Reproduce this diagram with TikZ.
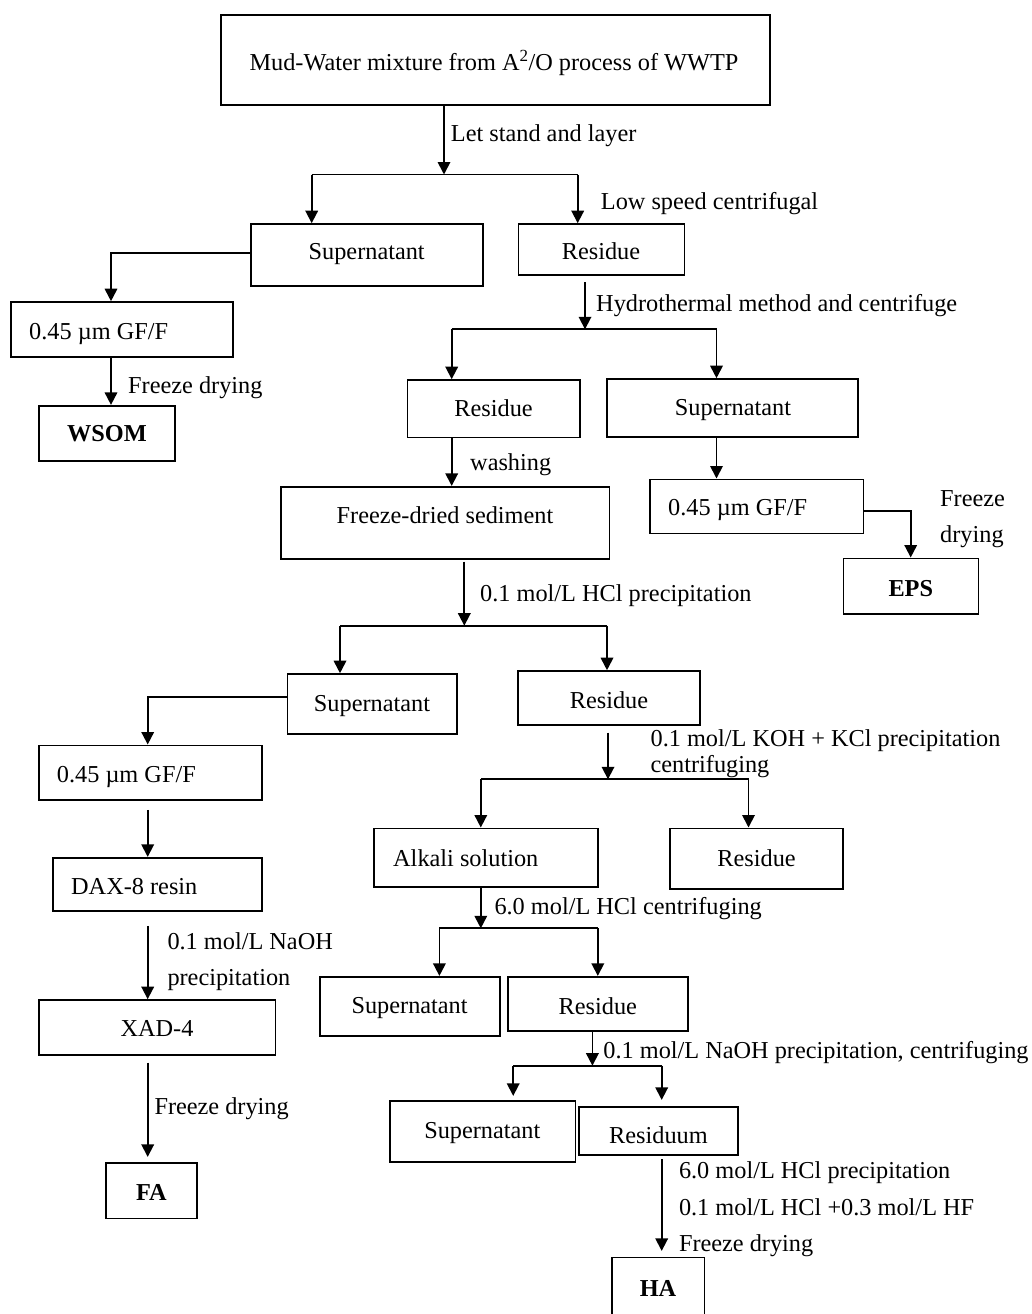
\documentclass[tikz,border=0pt]{standalone}
\usepackage{fontspec}
\setmainfont{Liberation Serif}
\usetikzlibrary{arrows.meta,fit,calc}
\newcommand{\mybox}[5]{\node[box, fit={(#2,#3) (#4,#5)}] (#1) {};}
\begin{document}
\begin{tikzpicture}[x=1pt,y=-1pt,
  box/.style={draw, line width=1.6pt, inner sep=0pt},
  txt/.style={inner sep=0pt, text height=16pt, text depth=0pt, font=\fontsize{24.3}{29}\selectfont},
  ln/.style={line width=1.8pt},
  arr/.style={ln, -{Triangle[width=12.5pt,length=12.5pt]}}
]
\useasboundingbox (0,0) rectangle (1032,1314);
\clip (0,0) rectangle (1032,1314);
\fill[white] (0,0) rectangle (1032,1314);
% boxes
\mybox{top}{220.7}{15}{770}{105}
\mybox{sup1}{250.7}{224}{482.7}{286}
\mybox{res1}{518.3}{224}{684.3}{275}
\mybox{gff1}{11}{302}{233}{357}
\mybox{wsom}{39}{405.7}{174.7}{460.7}
\mybox{res2}{407.3}{380}{579.8}{437.3}
\mybox{sup2}{607}{379}{858}{436.7}
\mybox{gff2}{650.2}{479.3}{863.3}{533.3}
\mybox{eps}{843.3}{558.3}{978.3}{614}
\mybox{fds}{280.7}{486.7}{609.4}{558.7}
\mybox{sup3}{287.3}{674}{456.7}{734}
\mybox{res3}{518.1}{671}{700}{725}
\mybox{gff3}{39}{745.3}{261.7}{800}
\mybox{dax}{52.7}{857.7}{261.7}{911}
\mybox{xad}{39}{1000}{275.3}{1055}
\mybox{fa}{105.7}{1162.7}{197}{1218.3}
\mybox{alk}{374.1}{828.3}{597.8}{886.7}
\mybox{res4}{669.8}{828.3}{843}{889}
\mybox{sup4}{320}{976.7}{499.7}{1035.7}
\mybox{res5}{507.8}{976.7}{687.8}{1031}
\mybox{sup5}{389.9}{1100.7}{575.3}{1161.7}
\mybox{resm}{578.9}{1106.7}{738.2}{1154.7}
\mybox{ha}{611.7}{1257.3}{704.3}{1330}
% connectors
\coordinate (j1) at (444,174.5);
\coordinate (j1l) at (311.7,174.5);
\coordinate (j1r) at (577.7,174.5);
\draw[arr] (top.south -| j1) -- (j1);
\draw[ln] (j1l) -- (j1r);
\draw[arr] (j1l) -- (j1l |- sup1.north);
\draw[arr] (j1r) -- (j1r |- res1.north);
\coordinate (x111) at (111,253.3);
\draw[arr] (sup1.west |- x111) -| (gff1.north -| x111);
\draw[arr] (gff1.south -| x111) -- (wsom.north -| x111);
\coordinate (j2) at (585,329.3);
\coordinate (j2l) at (451.7,329.3);
\coordinate (j2r) at (716.5,329.3);
\draw[arr, shorten <=6.5pt] (res1.south -| j2) -- (j2);
\draw[ln] (j2l) -- (j2r);
\draw[arr] (j2l) -- (j2l |- res2.north);
\draw[arr] (j2r) -- (j2r |- sup2.north);
\draw[arr] (sup2.south -| j2r) -- (gff2.north -| j2r);
\coordinate (k1) at (910.7,510.7);
\draw[arr] (gff2.east |- k1) -| (eps.north -| k1);
\draw[arr] (res2.south -| j2l) -- (fds.north -| j2l);
\coordinate (j3) at (464.3,625.7);
\coordinate (j3l) at (340,625.7);
\coordinate (j3r) at (607,625.7);
\draw[arr, shorten <=2pt] (fds.south -| j3) -- (j3);
\draw[ln] (j3l) -- (j3r);
\draw[arr] (j3l) -- (j3l |- sup3.north);
\draw[arr] (j3r) -- (j3r |- res3.north);
\coordinate (k2) at (147.7,696.7);
\draw[arr] (sup3.west |- k2) -| (gff3.north -| k2);
\draw[arr, shorten <=9pt] (gff3.south -| k2) -- (dax.north -| k2);
\draw[arr, shorten <=14pt] (dax.south -| k2) -- (xad.north -| k2);
\draw[arr, shorten <=6.7pt, shorten >=5pt] (xad.south -| k2) -- (fa.north -| k2);
\coordinate (j4) at (608,779.3);
\coordinate (j4l) at (480.8,779.3);
\coordinate (j4r) at (748.5,779.3);
\draw[arr, shorten <=6.7pt] (res3.south -| j4) -- (j4);
\draw[ln] (j4l) -- (j4r);
\draw[arr] (j4l) -- (j4l |- alk.north);
\draw[arr] (j4r) -- (j4r |- res4.north);
\coordinate (j5) at (480.8,928.3);
\coordinate (j5l) at (439.4,928.3);
\coordinate (j5r) at (597.8,928.3);
\draw[arr] (alk.south -| j5) -- (j5);
\draw[ln] (j5l) -- (j5r);
\draw[arr] (j5l) -- (j5l |- sup4.north);
\draw[arr] (j5r) -- (j5r |- res5.north);
\coordinate (j6) at (592.4,1065.7);
\coordinate (j6l) at (513.2,1065.7);
\coordinate (j6r) at (661.7,1065.7);
\draw[arr] (res5.south -| j6) -- (j6);
\draw[ln] (j6l) -- (j6r);
\draw[arr, shorten >=4pt] (j6l) -- (j6l |- sup5.north);
\draw[arr, shorten >=6pt] (j6r) -- (j6r |- resm.north);
\draw[arr, shorten <=3.6pt, shorten >=5.6pt] (resm.south -| j6r) -- (ha.north -| j6r);
% texts
\node[txt] (t0) at (494,62.5) {Mud-Water mixture from A\textsuperscript{2}/O process of WWTP};
\node[txt,anchor=west] (l1) at (450.7,133) {Let stand and layer};
\node[txt] (t1) at (366.7,251.7) {Supernatant};
\node[txt] (t2) at (601,251.7) {Residue};
\node[txt,anchor=west] (l2) at (600.7,201.5) {Low speed centrifugal};
\node[txt,anchor=west] (t3) at (29,331.3) {0.45 µm GF/F};
\node[txt,anchor=west] (l3) at (128,385) {Freeze drying};
\node[txt] (t4) at (107,433.8) {\textbf{WSOM}};
\node[txt,anchor=west] (l4) at (596,303.8) {Hydrothermal method and centrifuge};
\node[txt] (t5) at (493.6,408.7) {Residue};
\node[txt] (t6) at (733,407.8) {Supernatant};
\node[txt,anchor=west] (l5) at (470,462) {washing};
\node[txt,anchor=west] (t7) at (668,507.8) {0.45 µm GF/F};
\node[txt,anchor=west] (l6) at (940,498) {Freeze};
\node[txt,anchor=west] (l7) at (940,534.7) {drying};
\node[txt] (t8) at (910.8,588.3) {\textbf{EPS}};
\node[txt] (t9) at (445,515) {Freeze-dried sediment};
\node[txt,anchor=west] (l8) at (480,593.3) {0.1 mol/L HCl precipitation};
\node[txt] (t10) at (372,703.3) {Supernatant};
\node[txt] (t11) at (609,700) {Residue};
\node[txt,anchor=west] (t12) at (56.7,774.7) {0.45 µm GF/F};
\node[txt,anchor=west] (l9) at (650.4,738.3) {0.1 mol/L KOH + KCl precipitation};
\node[txt,anchor=west] (l10) at (650.4,764) {centrifuging};
\node[txt,anchor=west] (t13) at (71,886.7) {DAX-8 resin};
\node[txt,anchor=west] (t14) at (393,858.3) {Alkali solution};
\node[txt] (t15) at (756.6,858) {Residue};
\node[txt,anchor=west] (l11) at (494.3,906.2) {6.0 mol/L HCl centrifuging};
\node[txt,anchor=west] (l12) at (167.3,941.7) {0.1 mol/L NaOH};
\node[txt,anchor=west] (l13) at (167.3,977.3) {precipitation};
\node[txt] (t16) at (157,1028.3) {XAD-4};
\node[txt,anchor=west] (l14) at (154.3,1106.7) {Freeze drying};
\node[txt] (t17) at (151.3,1192.8) {\textbf{FA}};
\node[txt] (t18) at (409.6,1005) {Supernatant};
\node[txt] (t19) at (597.8,1006.7) {Residue};
\node[txt,anchor=west] (l15) at (603.2,1050) {0.1 mol/L NaOH precipitation, centrifuging};
\node[txt] (t20) at (482.3,1130) {Supernatant};
\node[txt] (t21) at (658.5,1135) {Residuum};
\node[txt,anchor=west] (l16) at (678.8,1170.7) {6.0 mol/L HCl precipitation};
\node[txt,anchor=west] (l17) at (678.8,1207.3) {0.1 mol/L HCl +0.3 mol/L HF};
\node[txt,anchor=west] (l18) at (678.8,1243.3) {Freeze drying};
\node[txt] (t22) at (658,1288.3) {\textbf{HA}};
\end{tikzpicture}
\end{document}
